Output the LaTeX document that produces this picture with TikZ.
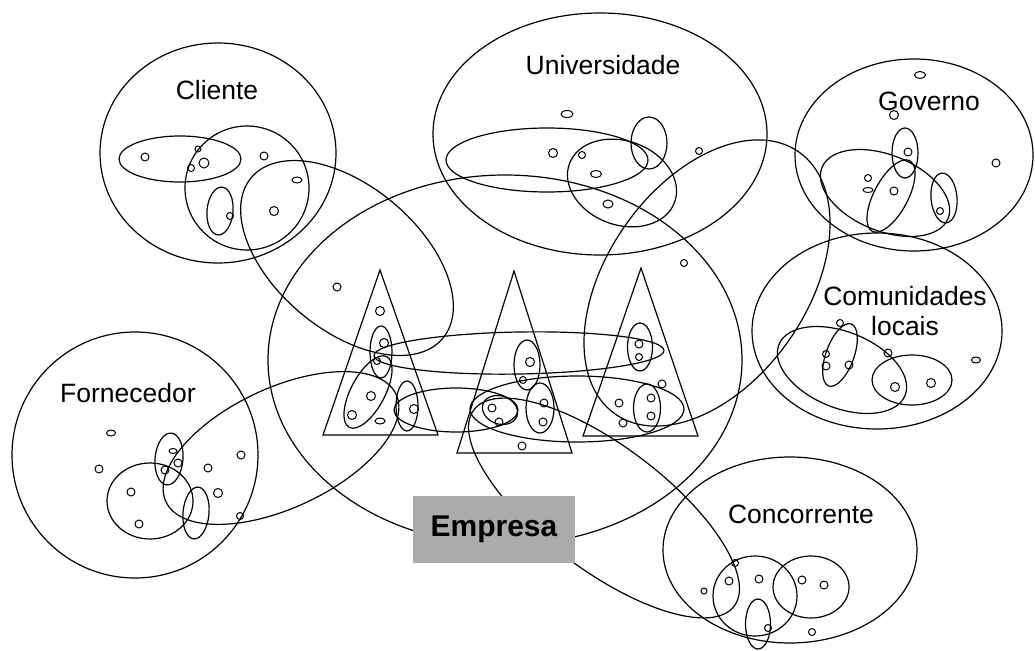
\documentclass[tikz,border=0pt]{standalone}
\usepackage{fontspec}
\setmainfont{Liberation Sans}
\newcommand\myE[5]{\draw[rotate around={#5:(#1,#2)}] (#1,#2) ellipse ({#3pt} and {#4pt});}
\newcommand\myC[3]{\draw[dotln] (#1,#2) circle ({#3pt});}
\newcommand\myO[4]{\draw[dotln] (#1,#2) ellipse ({#3pt} and {#4pt});}
\begin{document}
\begin{tikzpicture}[x=1pt,y=-1pt,line width=1.2pt,
  lbl/.style={font=\fontsize{26.5}{30}\selectfont,align=center,inner sep=0pt},
  dotln/.style={line width=1pt},
  boxst/.style={fill=black!33,draw=none,minimum width=162pt,minimum height=67pt,inner sep=0pt,font=\fontsize{30}{36}\selectfont\bfseries}]
\useasboundingbox (0,0) rectangle (1035,650);
% ---------- outer organisations ----------
\myE{218}{153}{118}{110}{0}      % Cliente
\myE{600}{134}{167}{121}{0}      % Universidade
\myE{914}{155}{119}{96}{0}       % Governo
\myE{877}{331}{125}{98}{0}       % Comunidades
\myE{135}{455}{123}{123}{0}      % Fornecedor
\myE{790}{550}{127}{93}{0}       % Concorrente
\myE{505}{360}{237}{185}{0}      % Empresa
% ---------- linking ellipses ----------
\myE{347}{258}{125}{72}{-40}     % Cliente - T1
\myE{707}{283}{160}{100}{55}     % Universidade - T3
\myE{281}{448}{127}{60}{25}      % Fornecedor - T1
\myE{519}{353}{145}{21}{1}       % T1 - T2 - T3
\myE{456}{410}{62}{22}{0}        % T1 - T2
\myE{577}{409}{107}{33}{0}       % T2 - T3
\myE{604}{508}{163}{62}{-37}     % T2 - Concorrente
% ---------- triangles ----------
\draw (380,270) -- (438,435) -- (323,435) -- cycle;
\draw (514,271) -- (572,453) -- (457,453) -- cycle;
\draw (641,268) -- (698,436) -- (583,436) -- cycle;
% ---------- Cliente inner ----------
\myE{180}{159}{61}{23}{0}
\myE{247}{188}{62}{62}{0}
\myE{220}{211}{13}{24}{-5}
\myC{145}{157}{4}\myC{198}{149}{3}\myC{204}{163}{5}\myC{191}{168}{3.5}
\myC{264}{156}{4}\myO{297}{180}{5}{3}\myC{274}{211}{4.5}\myC{230}{216}{3.5}
% ---------- Universidade inner ----------
\myE{547}{160}{101}{32}{0}
\myE{622}{183}{56}{42}{-20}
\myE{649}{143}{18}{26}{0}
\myO{567}{114}{6}{3.5}\myC{553}{153}{4.5}\myC{582}{155}{3.5}
\myO{596}{174}{5.5}{3.5}\myO{608}{204}{5}{4}\myC{699}{151}{3.5}
% ---------- Governo inner ----------
\myE{885}{193}{68}{38}{-22}
\myE{905}{153}{13}{25}{0}
\myE{891}{196}{40}{17}{62}
\myE{944}{198}{13}{25}{5}
\myO{920}{75}{5.5}{3.5}\myC{894}{115}{4.5}\myC{908}{152}{4}\myC{868}{178}{3.5}
\myO{868}{190}{5}{2.5}\myC{894}{191}{4}\myC{940}{211}{3.5}\myC{996}{163}{4}
% ---------- Comunidades inner ----------
\myE{842}{370}{68}{38}{-22}
\myE{840}{355}{33}{14}{70}
\myE{912}{380}{40}{25}{0}
\myC{840}{323}{3.5}\myC{826}{354}{3.5}\myC{826}{366}{4}\myC{849}{365}{4}
\myC{888}{353}{4}\myC{895}{387}{4.5}\myC{931}{383}{4.5}\myO{976}{360}{4.5}{3}
% ---------- Fornecedor inner ----------
\myE{150}{501}{43}{38}{0}
\myE{169}{459}{14}{26}{-5}
\myE{196}{513}{13}{26}{-5}
\myO{111}{433}{4.5}{3}\myC{99}{469}{4}\myC{131}{492}{4}\myC{139}{524}{4}
\myO{173}{451}{4}{2.5}\myC{178}{463}{4}\myC{165}{470}{4}\myC{208}{468}{4}
\myC{218}{493}{4.5}\myC{241}{455}{4}\myC{240}{516}{3.5}
% ---------- Concorrente inner ----------
\myE{755}{596}{42}{40}{0}
\myE{811}{587}{38}{31}{0}
\myE{758}{624}{12.5}{25}{0}
\myC{735}{563}{3.5}\myC{729}{581}{4}\myC{704}{591}{3}\myC{759}{579}{4}
\myC{802}{580}{4}\myC{824}{585}{4}\myC{768}{628}{3.5}\myC{812}{632}{3.5}
% ---------- T1 inner ----------
\myC{337}{287}{4}\myC{380}{311}{4.5}
\myE{381}{352}{11}{26}{0}
\myC{384}{343}{4.5}\myC{377}{361}{3.5}
\myE{368}{392}{40}{17}{62}
\myC{371}{396}{4.5}\myC{352}{415}{4.5}\myO{380}{421}{5}{3}
\myE{407}{406}{11}{25}{0}
\myC{414}{409}{4.5}
% ---------- T2 inner ----------
\myE{527}{365}{13}{25}{0}
\myC{530}{362}{4.5}\myC{523}{380}{3.5}
\myE{500}{410}{18}{14}{-20}
\myC{492}{408}{4}\myC{499}{422}{4}
\myE{540}{408}{14}{25}{0}
\myC{544}{403}{4}\myC{543}{422}{4}
\myC{522}{446}{4}
% ---------- T3 inner ----------
\myC{684}{263}{3.5}
\myE{640}{347}{12.5}{24}{0}
\myC{639}{344}{4}\myC{639}{357}{3.5}
\myE{647}{408}{13.5}{24}{0}
\myC{651}{398}{4}\myC{651}{416}{4}
\myC{662}{384}{4}\myC{619}{403}{4}\myC{623}{423}{4}
% ---------- labels ----------
\node[lbl] (cli) at (217,90) {Cliente};
\node[lbl] (uni) at (603,65) {Universidade};
\node[lbl] (gov) at (929,101) {Governo};
\node[lbl] (com) at (905,311) {Comunidades\\locais};
\node[lbl] (for) at (128,393) {Fornecedor};
\node[lbl] (con) at (801,514) {Concorrente};
\node[boxst] (emp) at (494,529.5) {Empresa};
\end{tikzpicture}
\end{document}
